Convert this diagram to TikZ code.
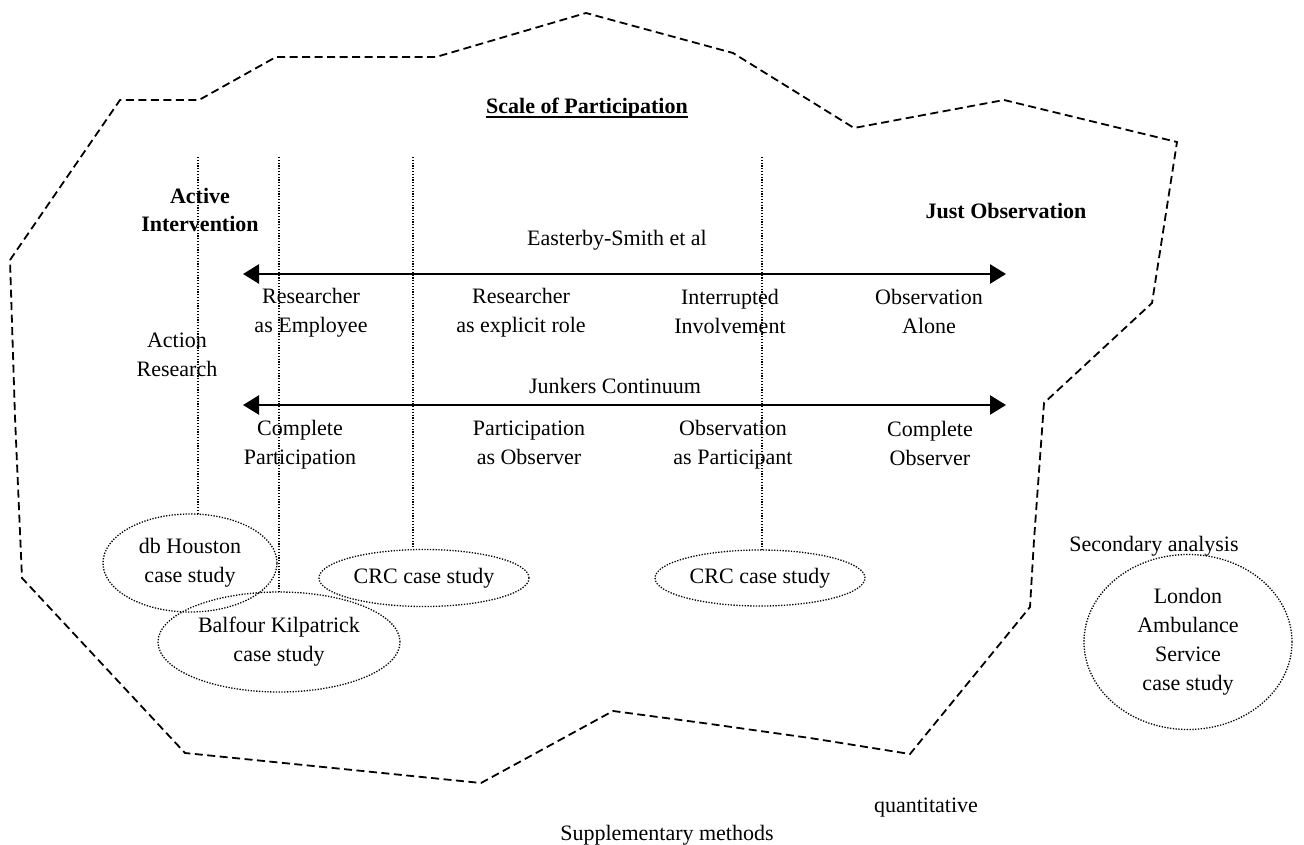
\documentclass[tikz,border=0pt]{standalone}
\usepackage{fontspec}
\setmainfont{Liberation Serif}
\usetikzlibrary{arrows.meta,shapes.geometric}

\tikzset{
  lbl/.style={align=center, inner sep=0pt, font=\fontsize{22}{29}\selectfont},
  boldlbl/.style={lbl, font=\fontsize{22}{28}\selectfont\bfseries},
  outline/.style={line width=1.8pt, dash pattern=on 8pt off 4.5pt},
  guide/.style={line width=1.2pt, dash pattern=on 1.2pt off 1.6pt},
  scalearrow/.style={line width=2.6pt,
    {Triangle[length=16pt,width=19pt]}-{Triangle[length=16pt,width=19pt]}},
  casebubble/.style={ellipse, draw, line width=1.3pt,
    dash pattern=on 1.3pt off 1.5pt, inner sep=0pt, align=center,
    font=\fontsize{22}{29}\selectfont},
}

\begin{document}
\begin{tikzpicture}[x=1pt, y=-1pt]
  \useasboundingbox (0,0) rectangle (1304,845);

  % boundary of the participant-observation field
  \draw[outline] (10,260) -- (120,100) -- (199,100) -- (276,57) -- (436,57)
    -- (586,13) -- (733,53) -- (854,128) -- (1004,100) -- (1177,142)
    -- (1152,303) -- (1044,403) -- (1034,540) -- (1030,607) -- (910,754)
    -- (810,738) -- (703,723) -- (613,711) -- (481,783) -- (185,753)
    -- (22,578) -- (15,417) -- cycle;

  % heading
  \node[boldlbl] (title) at (587,108) {Scale of Participation};
  \draw[line width=1.3pt] ([yshift=-3.5pt]title.base west) -- ([yshift=-3.5pt]title.base east);

  % ends of the scale
  \node[boldlbl] (active) at (200,210) {Active\\Intervention};
  \node[boldlbl] (justobs) at (1006,211) {Just Observation};

  % Easterby-Smith scale
  \node[lbl] (easterby) at (617,240) {Easterby-Smith et al};
  \coordinate (eL) at (243,274);
  \coordinate (eR) at (1006,274);
  \draw[scalearrow] (eL) -- (eR);
  \node[lbl] (r1) at (311,313) {Researcher\\as Employee};
  \node[lbl] (r2) at (521,313) {Researcher\\as explicit role};
  \node[lbl] (r3) at (730,311) {Interrupted\\Involvement};
  \node[lbl] (r4) at (929,311) {Observation\\Alone};

  \node[lbl] (action) at (177,355) {Action\\Research};

  % Junkers continuum
  \node[lbl] (junkers) at (615,386) {Junkers Continuum};
  \coordinate (jL) at (243,405);
  \coordinate (jR) at (1006,405);
  \draw[scalearrow] (jL) -- (jR);
  \node[lbl] (c1) at (300,445) {Complete\\Participation};
  \node[lbl] (c2) at (529,443) {Participation\\as Observer};
  \node[lbl] (c3) at (733,445) {Observation\\as Participant};
  \node[lbl] (c4) at (930,443) {Complete\\Observer};

  % case studies
  \node[casebubble, minimum width=174pt, minimum height=98pt] (dbh) at (190,563) {db Houston\\case study};
  \node[casebubble, minimum width=242pt, minimum height=100pt] (bk) at (279,642) {Balfour Kilpatrick\\case study};
  \node[casebubble, minimum width=210pt, minimum height=57pt] (crcA) at (424,578) {CRC case study};
  \node[casebubble, minimum width=210pt, minimum height=56pt] (crcB) at (760,578) {CRC case study};
  \node[casebubble, minimum width=208pt, minimum height=175pt] (las) at (1188,642) {London\\Ambulance\\Service\\case study};

  % guide lines from the scale down to the case studies
  \coordinate (g1) at (198,157);
  \coordinate (g2) at (279,157);
  \coordinate (g3) at (413,157);
  \coordinate (g4) at (762,157);
  \draw[guide] (g1) -- (g1 |- dbh.north);
  \draw[guide] (g2) -- (g2 |- bk.north);
  \draw[guide] (g3) -- (g3 |- crcA.north);
  \draw[guide] (g4) -- (g4 |- crcB.north);

  % outside the field
  \node[lbl] (secondary) at (1154,546) {Secondary analysis};
  \node[lbl] (quant) at (926,808) {quantitative};
  \node[lbl] (supp) at (667,835) {Supplementary methods};
\end{tikzpicture}
\end{document}
